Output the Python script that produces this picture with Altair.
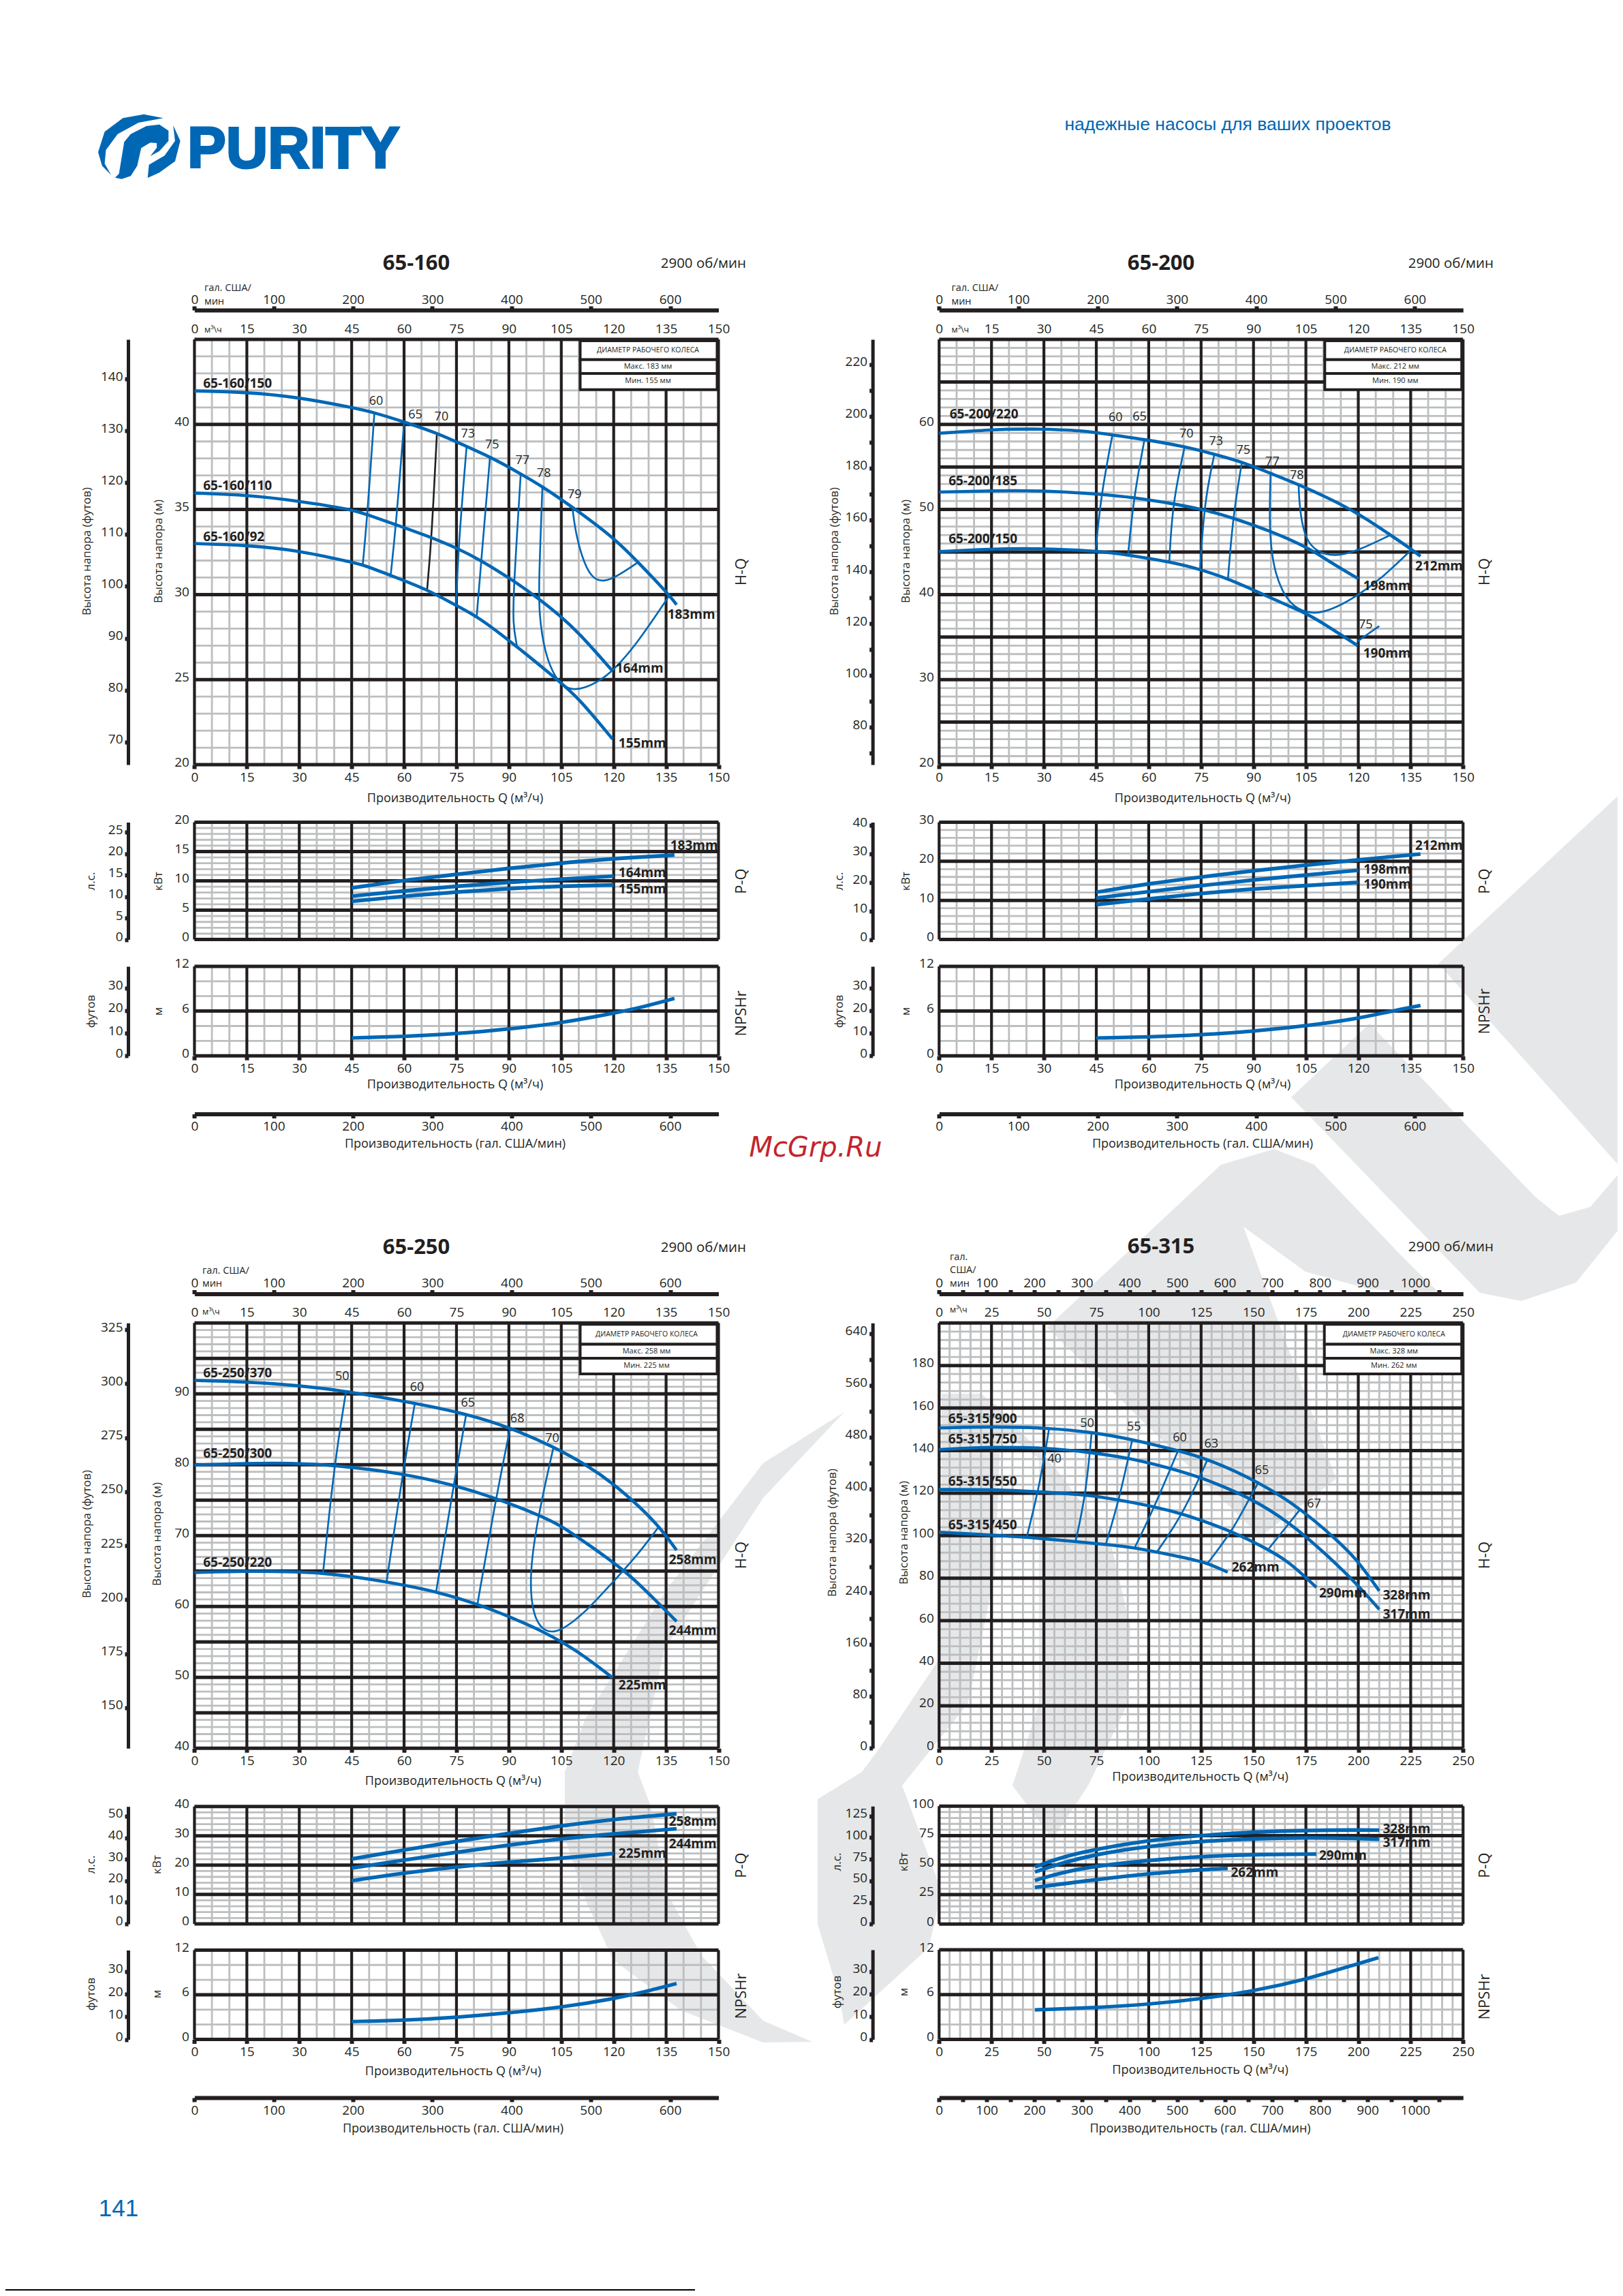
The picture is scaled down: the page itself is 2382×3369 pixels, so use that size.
import altair as alt
import pandas as pd

W, H = 2366, 3353
INK = "#231f20"; GRID = "#bcbec0"; BLUE = "#0067b5"; WM = "#e6e7e8"
FONT = "Open Sans"

# ---------- data ----------
# 65-160
A_H183 = [(0,41.97),(15.2,41.9),(29.8,41.6),(45,41),(51.5,40.7),(60,40.15),(69.4,39.5),(77.9,38.7),(84.6,38.1),(93.4,37.1),(99.6,36.35),(108.5,35.1),(120,33.35),(127,31.9),(135.8,30),(138,29.4)]
A_H164 = [(0,35.96),(15.2,35.86),(29.8,35.5),(45,35),(49.5,34.7),(57.7,34.1),(67.9,33.35),(75.5,32.7),(82.1,32),(90.7,30.9),(98.3,29.8),(104.7,28.75),(109.8,27.8),(119.7,25.5)]
A_H155 = [(0,33),(15.2,32.9),(29.8,32.6),(45,31.9),(48.2,31.75),(56.5,31.1),(66.6,30.3),(74.9,29.35),(80.8,28.75),(92,27),(104.7,24.85),(109.8,23.95),(119.7,21.5)]
A_E60 = [(51.5,40.67),(49.5,34.7),(48.2,31.8)]
A_E65 = [(60,40.1),(57.7,34.1),(56.2,31.2)]
A_E70 = [(69.4,39.5),(67.9,33.35),(66.6,30.3)]
A_E73 = [(77.9,38.7),(75.5,32.7),(74.9,29.35)]
A_E75 = [(84.6,38.1),(82.1,32),(80.8,28.75)]
A_E77 = [(93.4,37.1),(91.4,30.5),(91.1,28.25),(92.3,27)]
A_E78 = [(99.6,36.35),(98.6,30.9),(98.6,28.85),(100.3,26.5),(103.4,25.05),(106,24.55),(108.5,24.4),(111.7,24.5),(116.1,24.95),(119.7,25.5),(126.3,27),(135.8,29.9)]
A_E79 = [(108.2,35.1),(109.1,33.55),(111.7,31.7),(114.2,30.9),(117.4,30.75),(121.2,31.1),(127,31.9)]
A_ELAB = [(52,41.35,"60"),(63.2,40.55,"65"),(70.7,40.45,"70"),(78.3,39.45,"73"),(85.2,38.8,"75"),(93.9,37.85,"77"),(100,37.1,"78"),(108.8,35.85,"79")]
A_SLAB = [(2.5,42.4,"65-160/150"),(2.5,36.4,"65-160/110"),(2.5,33.4,"65-160/92"),(135.4,28.8,"183mm"),(120.6,25.65,"164mm"),(121.4,21.25,"155mm")]
A_P183 = [(45,8.8),(60,10.1),(75,11.1),(90,12.15),(105,13.05),(120,13.8),(137.4,14.4)]
A_P164 = [(45,7.4),(60,8.3),(75,9.1),(90,9.75),(105,10.3),(120,10.8)]
A_P155 = [(45,6.5),(60,7.4),(75,8.1),(90,8.7),(105,9.1),(120,9.3)]
A_PLAB = [(136.2,16,"183mm"),(121.4,11.3,"164mm"),(121.4,8.6,"155mm")]
A_N = [(45,2.4),(60,2.6),(75,2.95),(90.1,3.6),(105,4.4),(119.9,5.7),(128.8,6.6),(137.4,7.7)]
# 65-200
B_H212 = [(0,58.96),(15.1,59.4),(26.1,59.5),(41.4,59.3),(49.6,58.75),(58.8,58.25),(70.3,57.4),(78.8,56.5),(86.7,55.6),(94.9,54.25),(102.9,52.95),(111.2,51.4),(120,49.55),(129.2,47),(135.3,45.3),(137.8,44.5)]
B_H198 = [(0,52.05),(15.1,52.2),(28.7,52.25),(46.4,51.8),(55.96,51.4),(66.8,50.7),(75.6,50),(83.9,49.05),(94.7,47.5),(105.5,45.55),(111.2,44),(120,41.85)]
B_H190 = [(0,45.05),(15.1,45.35),(26.1,45.45),(44.9,45.15),(54.1,44.65),(66.1,43.85),(75,42.95),(83,41.8),(92.1,40.15),(100.4,38.6),(105.5,37.7),(111.2,36.3),(119.8,34)]
B_E60 = [(49.6,58.75),(46.4,51.8),(44.8,45.25)]
B_E65 = [(58.8,58.25),(55.7,51.4),(54.1,44.7)]
B_E70 = [(70.3,57.4),(66.8,50.7),(65.9,43.85)]
B_E73 = [(78.8,56.5),(75.9,50.8),(74.7,42.95)]
B_E75 = [(86.7,55.6),(84.1,49.15),(82.7,41.85)]
B_E77 = [(94.9,54.25),(94.4,47.5),(96,42.2),(100.4,38.7),(105.5,37.85),(108.6,37.8),(113.7,38.45),(120,39.95),(126.4,41.8),(135.3,45.3)]
B_E78 = [(102.9,52.95),(103.2,49.95),(104.8,46.5),(108,45.05),(113.1,44.45),(119.4,45.05),(129.2,47)]
B_E75B = [(119.8,34.5),(126,36.3)]
B_ELAB = [(50.5,60.8,"60"),(57.4,60.9,"65"),(70.8,58.85,"70"),(79.3,57.95,"73"),(87.1,56.9,"75"),(95.4,55.6,"77"),(102.4,54,"78"),(122.1,36.4,"75")]
B_SLAB = [(3,61.2,"65-200/220"),(2.7,53.3,"65-200/185"),(2.7,46.5,"65-200/150"),(136.3,43.3,"212mm"),(121.4,41,"198mm"),(121.4,33.1,"190mm")]
B_P212 = [(45,12.1),(60,14.3),(75,16),(90,17.6),(105,19),(120,20.4),(137.8,21.85)]
B_P198 = [(45,10.6),(60,12.25),(75,13.8),(90,15.25),(105,16.5),(120,17.7)]
B_P190 = [(45,8.9),(60,10.4),(75,11.8),(90,12.95),(105,13.8),(120,14.6)]
B_PLAB = [(136.3,24,"212mm"),(121.5,17.9,"198mm"),(121.5,14,"190mm")]
B_N = [(45,2.4),(60,2.53),(75,2.8),(90,3.3),(105,4),(120,5),(129,5.95),(137.8,6.75)]
# 65-250
C_H258 = [(0,91.9),(15.2,91.7),(29.8,91.2),(43.4,90.4),(63.1,88.7),(77.8,87.2),(90.4,85.25),(102.8,82.55),(112.3,79.95),(119.9,77.35),(127.5,74.05),(133,71.3),(138,67.95)]
C_H244 = [(0,79.95),(15.2,80.2),(27.3,80.25),(40,79.95),(59.6,78.8),(74.2,77.15),(86.3,75.3),(98.4,72.95),(104.7,71.5),(112.3,68.9),(123.5,65),(131.3,61.2),(138,57.9)]
C_H225 = [(0,64.8),(14.6,65),(29.8,64.9),(36.8,64.7),(45,64.25),(55,63.5),(69.2,62.15),(81,60.35),(89.5,58.7),(100.3,56.4),(109.8,53.7),(119.7,49.95)]
C_E50 = [(43.4,90.4),(40,79.95),(36.8,64.7)]
C_E60 = [(63.1,88.7),(59.6,78.8),(55,63.5)]
C_E65 = [(77.8,87.2),(74.2,77.15),(69.2,62.15)]
C_E68 = [(90.4,85.25),(86.3,75.3),(81,60.35)]
C_E70 = [(102.8,82.55),(98.4,72.95),(95.8,64.5),(96.8,58.6),(100.3,56.3),(104.7,56.4),(112.3,59.35),(119.9,63.55),(126.3,66.95),(133,71.3)]
C_ELAB = [(42.3,92.45,"50"),(63.7,90.9,"60"),(78.3,88.7,"65"),(92.4,86.5,"68"),(102.4,83.7,"70")]
C_SLAB = [(2.5,92.95,"65-250/370"),(2.5,81.6,"65-250/300"),(2.5,66.2,"65-250/220"),(135.8,66.55,"258mm"),(135.8,56.55,"244mm"),(121.4,48.9,"225mm")]
C_P258 = [(45,22.1),(60,25.2),(75,28.1),(90,30.9),(105,33.4),(120,35.7),(138,37.5)]
C_P244 = [(45,19),(60,21.75),(75,24.4),(90,26.9),(105,29),(120,30.7),(138,32.4)]
C_P225 = [(45,14.7),(60,17.35),(75,19.4),(90,21.1),(105,22.3),(120,24)]
C_PLAB = [(135.8,34.9,"258mm"),(135.8,27.1,"244mm"),(121.4,24,"225mm")]
C_N = [(45,2.4),(60,2.55),(75,2.95),(90,3.55),(105,4.3),(120,5.45),(129,6.4),(138,7.5)]
# 65-315
D_H328 = [(0,150.65),(26.6,151.3),(52,150.65),(72.8,148.7),(92.2,145.3),(114,140),(128.2,136.1),(152.5,125.3),(172.6,112.75),(191.6,96.4),(200,87.9),(210,74)]
D_H317 = [(0,140.5),(26.6,141.8),(51,141.3),(72.1,139.2),(91.2,136.4),(109.1,132),(125,127.45),(148.3,118),(167.3,106.2),(185.3,90.7),(199,77.6),(210,65.35)]
D_H290 = [(0,121.7),(26.6,121.7),(47.8,120.6),(70,119.3),(85.9,116.8),(102.8,113.6),(116.5,110.3),(139.8,102.1),(157.8,93.1),(167.3,87.4),(180,75.65)]
D_H262 = [(0,101.6),(26.6,100.2),(42.5,99.2),(65.8,97.2),(79.5,95.9),(93.3,94.3),(103.9,92.3),(117.6,89.5),(128.2,87.1),(137.7,82.8)]
D_E40 = [(52.5,150.65),(51,141.3),(47.2,120.6),(41.9,99.7)]
D_E50 = [(72.8,148.7),(70,119.3),(65.1,97.2)]
D_E55 = [(92.2,145.3),(85.9,116.8),(79.5,95.9)]
D_E60 = [(114,140),(102.8,113.6),(93.3,94.3)]
D_E63 = [(128.2,136.1),(116.5,110.3),(103.9,92.3)]
D_E65 = [(152.5,125.3),(147.2,116),(139.8,102.1),(128.2,87.1)]
D_E67 = [(172.6,112.75),(167.3,106.2),(157.4,94)]
D_ELAB = [(55,135.9,"40"),(70.6,152.8,"50"),(93,151,"55"),(114.8,145.9,"60"),(129.9,143.1,"63"),(154,130.4,"65"),(178.9,114.9,"67")]
D_SLAB = [(4.4,154.9,"65-315/900"),(4.4,145.4,"65-315/750"),(4.4,125.3,"65-315/550"),(4.4,104.9,"65-315/450"),(211.7,72,"328mm"),(211.7,63,"317mm"),(181.3,72.7,"290mm"),(139.6,85,"262mm")]
D_P328 = [(45.7,48.4),(58.4,56.8),(75.3,63.7),(100,71.1),(125,75.3),(150,78.1),(174.7,79.5),(200,79.9),(210,79.7)]
D_P317 = [(45.7,44.2),(58.4,51.8),(75.3,59.4),(100,66.1),(125,70.3),(150,72.5),(174.7,73.3),(200,72.7),(210,71.9)]
D_P290 = [(45.7,37),(58.4,43.8),(75.3,49.4),(100,54.2),(125,57.4),(150,59),(180,59.4)]
D_P262 = [(45.7,31.1),(75.3,37.8),(100,42.8),(125,46.2),(137.7,47.2)]
D_PLAB = [(211.7,80.3,"328mm"),(211.7,68.7,"317mm"),(181.3,57.8,"290mm"),(139.2,43.4,"262mm")]
D_N = [(45.7,3.97),(75.3,4.26),(100,4.7),(125,5.43),(150,6.47),(174.7,8),(200,10.16),(209.6,10.95)]

Q150 = list(range(0, 151, 15)); Q150_MIN = list(range(0, 151, 5))
Q250 = list(range(0, 251, 25)); Q250_MIN = list(range(0, 251, 5))
GAL600 = list(range(0, 601, 100)); GAL_D = list(range(0, 1051, 50))

TITLE_Q = "Производительность Q (м³/ч)"
TITLE_G = "Производительность (гал. США/мин)"
TITLE_HF = "Высота напора (футов)"
TITLE_HM = "Высота напора (м)"
TABLE_HEAD = "ДИАМЕТР РАБОЧЕГО КОЛЕСА"
TAGLINE = "надежные насосы для ваших проектов"

# watermark outline, logo outline (page pixels)
WM_A = [(2382,1161),(2111,1414),(2382,1717)]
WM_B = [(2010,1502),(1895,1610),(2172,1897),(2233,1909),(2313,1882),(2382,1796),(2382,1715),(2334,1771),(2288,1784),(2253,1756)]
WM_G = [(1526,1958),(1792,1709),(1870,1686),(1929,1709),(2061,1847),(2112,1897),(2011,1892),(1916,1866),(1825,1800),(1961,2170),(1850,2255),(1537,1948)]
WM_CRESCENT = [(1239,2072),(1120,2147),(980,2330),(860,2520),(829,2600),(829,2697),(860,2790),(900,2876),(1000,2950),(1120,2997),(1192,2996),(1120,2965),(1030,2870),(980,2780),(955,2650),(936,2600),(975,2420),(1120,2198)]
WM_BOWL = [(1395,2045),(1460,2060),(1551,2157),(1629,2259),(1659,2387),(1655,2500),(1597,2620),(1545,2699),(1486,2620),(1525,2500),(1525,2140)]
WM_STEM = [(1382,2045),(1440,2045),(1470,2070),(1460,2310),(1421,2499),(1324,2620),(1382,2775),(1363,2858),(1239,2971),(1232,2930),(1200,2823),(1200,2640),(1265,2600),(1291,2565),(1376,2438),(1382,2250)]
LOGO_1 = [(239.7,173.3),(211,167.7),(180.4,173.3),(153.6,193.3),(144,223.3),(149.8,243.3),(163,256.7),(153.6,240),(155.5,220),(172.7,196.7),(203.3,180)]
LOGO_2 = [(168.9,260.7),(174.6,255),(182.3,208.3),(191.8,196.7),(214.8,185),(233.9,182.7),(247.3,191.7),(247.3,206.7),(233.9,221.7),(220.6,229),(230.1,216.7),(230.1,210),(220.6,209.3),(207.2,217.3),(201.4,243.3),(191.8,258.3),(178.5,262.7)]
LOGO_3 = [(254.2,184),(264.6,206.7),(256.9,236.7),(233.9,253.3),(216.7,261),(218.6,241.7),(241.6,228.3),(256.9,206.7)]

# ---------- helpers ----------
def S(dom, a, b):
    return alt.Scale(domain=list(dom), range=[a - 8, b - 8], nice=False, zero=False)

PX = S((0, 2382), 0, 2382)
PY = S((0, 3369), 0, 3369)
layers = []

def page_text(rows, size, font=FONT, weight="normal", color=INK, angle=0, align="center", style="normal", baseline="middle", **kw):
    df = pd.DataFrame(rows, columns=["x", "y", "t"])
    layers.append(alt.Chart(df).mark_text(fontSize=size, font=font, fontWeight=weight, color=color, angle=angle,
                                          align=align, baseline=baseline, fontStyle=style, **kw).encode(
        x=alt.X("x:Q", scale=PX, axis=None), y=alt.Y("y:Q", scale=PY, axis=None), text="t:N"))

def shape(points, color):
    df = pd.DataFrame([{"x": p[0], "y": p[1], "i": k} for k, p in enumerate(points)])
    layers.append(alt.Chart(df).mark_line(fill=color, strokeWidth=0, interpolate="linear-closed").encode(
        x=alt.X("x:Q", scale=PX, axis=None), y=alt.Y("y:Q", scale=PY, axis=None), order=alt.Order("i:Q")))

def rects(rows, fill, stroke=None, sw=0):
    df = pd.DataFrame(rows, columns=["x", "x2", "y", "y2"])
    kw = dict(fill=fill)
    if stroke:
        kw.update(stroke=stroke, strokeWidth=sw)
    layers.append(alt.Chart(df).mark_rect(**kw).encode(
        x=alt.X("x:Q", scale=PX, axis=None), x2="x2:Q", y=alt.Y("y:Q", scale=PY, axis=None), y2="y2:Q"))

def vrules(vals, sx, sy, lo, hi, color, w):
    df = pd.DataFrame({"x": vals, "a": lo, "b": hi})
    layers.append(alt.Chart(df).mark_rule(color=color, strokeWidth=w).encode(
        x=alt.X("x:Q", scale=sx, axis=None), y=alt.Y("a:Q", scale=sy, axis=None), y2="b:Q"))

def hrules(vals, sx, sy, lo, hi, color, w):
    df = pd.DataFrame({"y": vals, "a": lo, "b": hi})
    layers.append(alt.Chart(df).mark_rule(color=color, strokeWidth=w).encode(
        y=alt.Y("y:Q", scale=sy, axis=None), x=alt.X("a:Q", scale=sx, axis=None), x2="b:Q"))

def curves(groups, sx, sy, w, color=BLUE, interp="basis"):
    recs = []
    for n, pts in enumerate(groups):
        recs += [{"x": p[0], "y": p[1], "s": n, "i": k} for k, p in enumerate(pts)]
    layers.append(alt.Chart(pd.DataFrame(recs)).mark_line(color=color, strokeWidth=w, interpolate=interp, strokeCap="butt").encode(
        x=alt.X("x:Q", scale=sx, axis=None), y=alt.Y("y:Q", scale=sy, axis=None),
        detail="s:N", order=alt.Order("i:Q")))

def data_text(rows, sx, sy, size, weight="normal", align="center"):
    df = pd.DataFrame(rows, columns=["x", "y", "t"])
    layers.append(alt.Chart(df).mark_text(fontSize=size, font=FONT, fontWeight=weight, color=INK, align=align, baseline="middle").encode(
        x=alt.X("x:Q", scale=sx, axis=None), y=alt.Y("y:Q", scale=sy, axis=None), text="t:N"))

def axis_kw(values, expr=None, **kw):
    d = dict(title=None, grid=False, zindex=1, values=values, format="d", labelFont=FONT, labelFontSize=19,
             labelColor=INK, labelOverlap=False, labelFlush=False, labelBound=False, domainColor=INK, tickColor=INK)
    if expr:
        d["labelExpr"] = expr
    d.update(kw)
    return alt.Axis(**d)

def x_axis(scale, y_page, orient, values, expr=None, line=False, ticks=True, pad=4):
    off = -(y_page - 8) if orient == "top" else -(H - (y_page - 8))
    ax = axis_kw(values, expr, orient=orient, offset=off, domain=line, domainWidth=6, ticks=ticks,
                 tickWidth=6, tickSize=6, labelPadding=pad)
    layers.append(alt.Chart(pd.DataFrame({"v": [0]})).mark_point(opacity=0).encode(x=alt.X("v:Q", scale=scale, axis=ax)))

def y_axis(scale, x_page, values, expr=None, line=False, pad=8):
    ax = axis_kw(values, expr, orient="left", offset=-(x_page - 8), domain=line, domainWidth=5, ticks=line,
                 tickWidth=6, tickSize=5, labelPadding=pad, labelOffset=-4)
    layers.append(alt.Chart(pd.DataFrame({"v": [scale.domain[0]]})).mark_point(opacity=0).encode(y=alt.Y("v:Q", scale=scale, axis=ax)))

def section(x0, x1, qmax, qmaj, qmin, top, bot, ydom, ymaj, ymin, foot_x, foot_dom, foot_ticks, foot_expr, yvals, mw=4.2, gw=2.8):
    sx = S((0, qmax), x0, x1)
    sy = alt.Scale(domain=list(ydom), range=[bot - 8, top - 8], nice=False, zero=False)
    vrules(qmin, sx, sy, ydom[0], ydom[1], GRID, gw)
    hrules(ymin, sx, sy, 0, qmax, GRID, gw)
    hrules(ymaj, sx, sy, 0, qmax, INK, mw + 0.8)
    vrules(qmaj, sx, sy, ydom[0], ydom[1], INK, mw)
    y_axis(sy, x0, yvals)
    fs = alt.Scale(domain=list(foot_dom), range=[bot - 8, top - 8], nice=False, zero=False)
    y_axis(fs, foot_x, foot_ticks, foot_expr, line=True, pad=3)
    return sx, sy

def fr(a, b, s):
    return [round(a + i * s, 4) for i in range(int(round((b - a) / s)) + 1)]

# ---------- page furniture ----------
for wm in (WM_A, WM_B, WM_G, WM_CRESCENT, WM_BOWL, WM_STEM):
    shape(wm, WM)
for lg in (LOGO_1, LOGO_2, LOGO_3):
    shape(lg, BLUE)
page_text([(275, 246, "PURITY")], 85, font="Liberation Sans", weight="bold", color=BLUE, align="left", baseline="alphabetic", stroke=BLUE, strokeWidth=3)
page_text([(1802, 183, TAGLINE)], 26.5, font="Liberation Sans", color=BLUE)
page_text([(174, 3241, "141")], 35, font="Liberation Sans", color=BLUE)
page_text([(1197, 1685, "McGrp.Ru")], 40, font="DejaVu Sans", color="#c4242b", style="oblique")
layers.append(alt.Chart(pd.DataFrame({"a": [0], "b": [1020], "y": [3360]})).mark_rule(color="#000000", strokeWidth=2).encode(
    x=alt.X("a:Q", scale=PX, axis=None), x2="b:Q", y=alt.Y("y:Q", scale=PY, axis=None)))

# ---------- panels ----------
def block(x0, x1, qmax, qmaj, qmin, gal_max, gal_ticks, gal_expr, foot_x,
          top_h, bot_h, hdom, hmaj, hmin, fdom, fticks, fexpr, hvals,
          top_p, bot_p, pdom, pmaj, pmin, hpdom, hpticks,
          top_n, bot_n,
          gal_top, gal_bot,
          H_lines, E_lines, E_dark, elab, slab, P_lines, plab, N_line):
    # H-Q
    sx, sy = section(x0, x1, qmax, qmaj, qmin, top_h, bot_h, hdom, hmaj, hmin, foot_x, fdom, fticks, fexpr, hvals)
    curves(E_lines, sx, sy, 2.6)
    if E_dark:
        curves(E_dark, sx, sy, 2.6, color=INK)
    curves(H_lines, sx, sy, 4.6)
    data_text(elab, sx, sy, 18)
    data_text(slab, sx, sy, 19, weight="bold", align="left")
    # P-Q
    sx, sy = section(x0, x1, qmax, qmaj, qmin, top_p, bot_p, pdom, pmaj, pmin, foot_x, hpdom, hpticks, None, pmaj)
    curves(P_lines, sx, sy, 5.4)
    data_text(plab, sx, sy, 19, weight="bold", align="left")
    # NPSH
    sx, sy = section(x0, x1, qmax, qmaj, qmin, top_n, bot_n, (0, 12), [0, 6, 12], [2, 4, 8, 10], foot_x, (0, 39.5), [0, 10, 20, 30], None, [0, 6, 12])
    curves([N_line], sx, sy, 5.2)
    # shared horizontal axes
    qs = S((0, qmax), x0, x1)
    gs = S((0, gal_max), x0, x1)
    x_axis(gs, gal_top, "top", gal_ticks, gal_expr, line=True, pad=0)
    x_axis(qs, top_h, "top", qmaj, ticks=False, pad=6)
    x_axis(qs, bot_h, "bottom", qmaj, pad=3)
    x_axis(qs, bot_n, "bottom", qmaj, pad=3)
    x_axis(gs, gal_bot, "bottom", gal_ticks, gal_expr, line=True, pad=3)

block(285.4, 1054.5, 150, Q150, Q150_MIN, 661, GAL600, None, 188,
      498, 1122, (20, 45), fr(20, 45, 5), fr(20, 45, 1), (65.62, 147.64), fr(70, 140, 10), None, [20, 25, 30, 35, 40],
      1206.4, 1378.6, (0, 20), [0, 5, 10, 15, 20], fr(0, 20, 1), (0, 27.4), [0, 5, 10, 15, 20, 25],
      1417.9, 1549.3, 455, 1634.6,
      [A_H183, A_H164, A_H155], [A_E60, A_E65, A_E73, A_E75, A_E77, A_E78, A_E79], [A_E70], A_ELAB, A_SLAB,
      [A_P183, A_P164, A_P155], A_PLAB, A_N)
block(1378.3, 2147.3, 150, Q150, Q150_MIN, 661, GAL600, None, 1280.7,
      498, 1122, (20, 70), fr(20, 70, 5), fr(20, 70, 1), (65.62, 229.66), fr(70, 220, 10), "datum.value % 20 === 0 ? datum.label : ''", [20, 30, 40, 50, 60],
      1206.4, 1378.6, (0, 30), [0, 10, 20, 30], fr(0, 30, 2), (0, 41), [0, 10, 20, 30, 40],
      1417.9, 1549.3, 455, 1634.6,
      [B_H212, B_H198, B_H190], [B_E60, B_E65, B_E70, B_E73, B_E75, B_E77, B_E78, B_E75B], None, B_ELAB, B_SLAB,
      [B_P212, B_P198, B_P190], B_PLAB, B_N)
block(285.4, 1054.5, 150, Q150, Q150_MIN, 661, GAL600, None, 188,
      1941.3, 2565.3, (40, 100), fr(40, 100, 5), fr(40, 100, 1), (131.23, 328.08), fr(150, 325, 25), None, [40, 50, 60, 70, 80, 90],
      2650.7, 2822.9, (0, 40), [0, 10, 20, 30, 40], fr(0, 40, 2), (0, 54.5), [0, 10, 20, 30, 40, 50],
      2861.4, 2992.5, 1898.5, 3078,
      [C_H258, C_H244, C_H225], [C_E50, C_E60, C_E65, C_E68, C_E70], None, C_ELAB, C_SLAB,
      [C_P258, C_P244, C_P225], C_PLAB, C_N)
block(1378.3, 2147.3, 250, Q250, Q250_MIN, 1100.6, GAL_D, "datum.value % 100 === 0 && datum.value <= 1000 ? datum.label : ''", 1280.7,
      1941.3, 2565.3, (0, 200), fr(0, 200, 20), fr(0, 200, 4), (0, 656.17), fr(0, 640, 40), "datum.value % 80 === 0 ? datum.label : ''", fr(0, 180, 20),
      2650.3, 2823.2, (0, 100), [0, 25, 50, 75, 100], fr(0, 100, 5), (0, 136.4), [0, 25, 50, 75, 100, 125],
      2861, 2992.6, 1898.5, 3078,
      [D_H328, D_H317, D_H290, D_H262], [D_E40, D_E50, D_E55, D_E60, D_E63, D_E65, D_E67], None, D_ELAB, D_SLAB,
      [D_P328, D_P317, D_P290, D_P262], D_PLAB, D_N)

# ---------- tables ----------
TABLES = [
    (849.5, 1054.5, 498, 527.8, 548, 573.7, 951, 514, 538, 559, "Макс. 183 мм", "Мин. 155 мм"),
    (1942.3, 2147.3, 498, 527.8, 548, 573.7, 2047.8, 514, 538, 559, "Макс. 212 мм", "Мин. 190 мм"),
    (849.5, 1054.5, 1941.3, 1972.4, 1992.9, 2018, 949, 1958, 1982.7, 2004, "Макс. 258 мм", "Мин. 225 мм"),
    (1941.7, 2147.3, 1941.3, 1972.4, 1992.9, 2018, 2045.8, 1958, 1982.7, 2004, "Макс. 328 мм", "Мин. 262 мм"),
]
for t in TABLES:
    rects([(t[0] + 2, t[1] - 2, t[2] + 2, t[3]), (t[0] + 2, t[1] - 2, t[3], t[4]), (t[0] + 2, t[1] - 2, t[4], t[5] - 2)], "#ffffff", INK, 4)
    page_text([(t[6], t[7], TABLE_HEAD)], 10.5)
    page_text([(t[6], t[8], t[10]), (t[6], t[9], t[11])], 11)

# ---------- page text of each block ----------
BLOCKS = [
    dict(cx=611, rx=1095, ty=387, name="65-160", c=668, q1=1172, q2=1592, g=1679, f=128, m=233, hy=809, fp=134, pyy=1293, ny=1484, r=1088, rh=839, rp=1293, rn=1487),
    dict(cx=1704, rx=2192, ty=387, name="65-200", c=1765, q1=1172, q2=1592, g=1679, f=1225, m=1330, hy=809, fp=1232, pyy=1293, ny=1484, r=2179, rh=839, rp=1293, rn=1484),
    dict(cx=611, rx=1095, ty=1831, name="65-250", c=665, q1=2614, q2=3040, g=3124, f=128, m=231, hy=2251, fp=134, pyy=2736, ny=2926, r=1088, rh=2282, rp=2737, rn=2929),
    dict(cx=1704, rx=2192, ty=1830, name="65-315", c=1761.5, q1=2608, q2=3038, g=3124, f=1221.5, m=1327, hy=2249, fp=1229, pyy=2732, ny=2923, r=2179, rh=2282, rp=2737, rn=2930),
]
for b in BLOCKS:
    page_text([(b["cx"], b["ty"], b["name"])], 31, weight="bold")
    page_text([(b["rx"], b["ty"], "2900 об/мин")], 20.5, align="right")
    page_text([(b["c"], b["q1"], TITLE_Q), (b["c"], b["q2"], TITLE_Q), (b["c"], b["g"], TITLE_G)], 18)
    page_text([(b["f"], b["hy"], TITLE_HF), (b["m"], b["hy"], TITLE_HM),
               (b["fp"], b["pyy"], "л.с."), (b["m"], b["pyy"], "кВт"),
               (b["fp"], b["ny"], "футов"), (b["m"], b["ny"], "м")], 17, angle=270)
    page_text([(b["r"], b["rh"], "H-Q"), (b["r"], b["rp"], "P-Q"), (b["r"], b["rn"], "NPSHr")], 22, angle=270)

GAL_NOTES = [(300, 423, "гал. США/"), (300, 443, "мин"), (1396.5, 423, "гал. США/"), (1396.5, 443, "мин"),
             (297, 1865, "гал. США/"), (297, 1884, "мин"), (1394, 1845, "гал."), (1394, 1864, "США/"), (1394, 1884, "мин")]
M3_NOTES = [(300, 484, "м³\\ч"), (1396.5, 484, "м³\\ч"), (297, 1925, "м³\\ч"), (1394, 1922, "м³\\ч")]
page_text(GAL_NOTES, 14.5, align="left")
page_text(M3_NOTES, 12.5, align="left")

chart = alt.layer(*layers).resolve_scale(x="independent", y="independent").properties(
    width=W, height=H, padding=0, autosize=alt.AutoSizeParams(type="none"), background="#ffffff"
).configure_view(stroke=None)

chart.save("out.html", embed_options={"renderer": "svg", "actions": False})
